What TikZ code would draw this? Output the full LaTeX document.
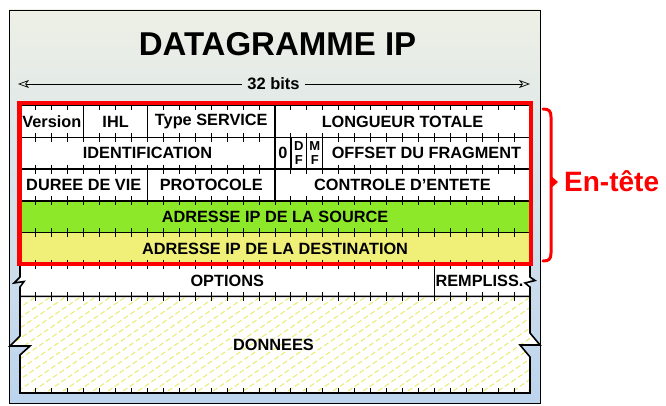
\documentclass[tikz,border=0pt]{standalone}
\usepackage{fontspec}
\setmainfont{Liberation Sans}
\usetikzlibrary{arrows.meta}
\definecolor{framtop}{RGB}{238,240,230}
\definecolor{frambot}{RGB}{188,212,238}
\definecolor{rowgreen}{RGB}{140,232,40}
\definecolor{rowyellow}{RGB}{240,240,120}
\definecolor{hatchy}{RGB}{234,234,110}
\definecolor{hred}{RGB}{255,0,0}
\newcommand\ipcell[7]{%
  \node[ipbox, fill=#6, minimum width={(#3-#2)*15.9375pt}, minimum height={(#5-#4)*1pt}]
    (#1) at ({20+(#2+#3)*7.96875}, {(#4+#5)/2}) {#7};}
\begin{document}
\begin{tikzpicture}[x=1pt,y=-1pt,
  ipbox/.style={draw=black, line width=1.2pt, inner sep=0pt, align=center,
    font=\bfseries\fontsize{16.3}{18}\selectfont, text=black},
  flagbox/.style={ipbox, fill=white, font=\bfseries\fontsize{13}{13.5}\selectfont},
  celltext/.style={inner sep=0pt, font=\bfseries\fontsize{16.3}{18}\selectfont},
  tickmark/.style={black, line width=0.9pt},
  edge/.style={black, line width=1.6pt},
  hatch/.style={hatchy, line width=1pt, dash pattern=on 5pt off 3pt},
  headbox/.style={hred, line width=4.3pt},
  brace/.style={hred, line width=3pt, line cap=round},
  bitsarrow/.style={black, line width=0.7pt, -{Stealth[open, length=11pt, width=8pt, inset=3pt]}}]
\useasboundingbox (0,0) rectangle (666,406);
% frame
\shade[top color=framtop, bottom color=frambot] (9,10) rectangle (540,403);
\draw[black, line width=0.8pt] (9,10) rectangle (540,403);
% title and 32 bits
\node[font=\bfseries\fontsize{33}{36}\selectfont, inner sep=0pt] (title) at (277.5,44) {DATAGRAMME IP};
\node[font=\bfseries\fontsize{16.5}{18}\selectfont, inner sep=5pt] (bits) at (273.5,84) {32 bits};
\coordinate (ltip) at (18,84);
\coordinate (rtip) at (530,84);
\draw[bitsarrow] (bits.west) -- (ltip);
\draw[bitsarrow] (bits.east) -- (rtip);
% header rows
\ipcell{ver}{0}{4}{105.5}{137.3}{white}{Version}
\ipcell{ihl}{4}{8}{105.5}{137.3}{white}{IHL}
\ipcell{tos}{8}{16}{105.5}{137.3}{white}{Type SERVICE}
\ipcell{len}{16}{32}{105.5}{137.3}{white}{LONGUEUR TOTALE}
\ipcell{ident}{0}{16}{137.3}{169.1}{white}{IDENTIFICATION}
\ipcell{zero}{16}{17}{137.3}{169.1}{white}{0}
\node[flagbox, minimum width=15.9375pt, minimum height=31.8pt] (df) at ({20+17.5*15.9375},153.2) {D\\F};
\node[flagbox, minimum width=15.9375pt, minimum height=31.8pt] (mf) at ({20+18.5*15.9375},153.2) {M\\F};
\ipcell{offs}{19}{32}{137.3}{169.1}{white}{OFFSET DU FRAGMENT}
\ipcell{ttl}{0}{8}{169.1}{200.9}{white}{DUREE DE VIE}
\ipcell{proto}{8}{16}{169.1}{200.9}{white}{PROTOCOLE}
\ipcell{csum}{16}{32}{169.1}{200.9}{white}{CONTROLE D'ENTETE}
\ipcell{src}{0}{32}{200.9}{232.7}{rowgreen}{ADRESSE IP DE LA SOURCE}
\ipcell{dst}{0}{32}{232.7}{264.5}{rowyellow}{ADRESSE IP DE LA DESTINATION}
% options row
\fill[white] (20,264.5) rectangle (530,296.3);
\draw[edge] (20,264.5) -- (20,277) -- (14,283) -- (24,281.5) -- (20,287) -- (20,296.3);
\draw[edge] (530,264.5) -- (530,277) -- (535,280.5) -- (525,283) -- (530,287) -- (530,296.3);
\draw[edge] (434.4,264.5) -- (434.4,296.3);
\node[celltext] (opt) at (227.2,280.6) {OPTIONS};
\node[celltext] (pad) at (479.5,280.6) {REMPLISS.};
% data area
\fill[white] (20,296.3) -- (530,296.3) -- (530,333) -- (540,345) -- (520,345) -- (530,357) -- (530,393) -- (20,393) -- (20,355) -- (30,346) -- (10,346) -- (20,336) -- cycle;
\begin{scope}
\clip (20,296.3) -- (530,296.3) -- (530,333) -- (540,345) -- (520,345) -- (530,357) -- (530,393) -- (20,393) -- (20,355) -- (30,346) -- (10,346) -- (20,336) -- cycle;
\foreach \i in {0,...,48} \draw[hatch] ({\i*15-160},400) -- ++(165,-113);
\end{scope}
\draw[edge, line join=miter] (20,296.3) -- (530,296.3) -- (530,333) -- (540,345) -- (520,345) -- (530,357) -- (530,393) -- (20,393) -- (20,355) -- (30,346) -- (10,346) -- (20,336) -- cycle;
\node[celltext] (data) at (273.5,345) {DONNEES};
% tick marks
\foreach \yy in {137.3,169.1,200.9,232.7,264.5,296.3}
  \foreach \k in {1,...,31}
    \draw[tickmark] ({20+\k*15.9375},\yy-4.5) -- ++(0,9);
\foreach \k in {1,...,31} {
  \draw[tickmark] ({20+\k*15.9375},105.5) -- ++(0,5);
  \draw[tickmark] ({20+\k*15.9375},393) -- ++(0,-5);
}
% header highlight
\draw[headbox] (19.5,103) rectangle (531,264);
% brace
\draw[brace] (543,109) .. controls (549,109) and (551,111) .. (551,117) -- (551,253) .. controls (551,259) and (549,261) .. (543,261);
\fill[hred] (550,175) -- (558,182) -- (550,189) -- cycle;
\node[font=\bfseries\fontsize{28}{32}\selectfont, text=hred, inner sep=0pt, anchor=base west] (entete) at (564,192) {En-tête};
\end{tikzpicture}
\end{document}
